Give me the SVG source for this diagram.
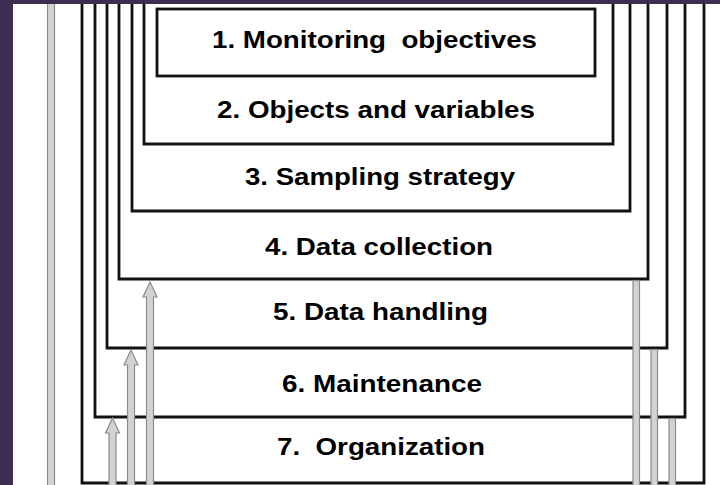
<svg xmlns="http://www.w3.org/2000/svg" width="720" height="485" viewBox="0 0 720 485">
<style>
.box{fill:none;stroke:#111;stroke-width:2.8;stroke-linejoin:miter}
.lbl{font-family:"Liberation Sans",Arial,Helvetica,sans-serif;font-weight:bold;font-size:24px;fill:#000}
.arr{fill:#d2d2d2;stroke:#8c8c8c;stroke-width:1.2}
</style>
<rect x="0" y="0" width="720" height="485" fill="#fff"/>
<g id="node7"><path class="box" d="M82,0 V483 H704 V0"/><text class="lbl" x="277" y="455" textLength="208" lengthAdjust="spacingAndGlyphs" xml:space="preserve">7.  Organization</text></g>
<g id="node6"><path class="box" d="M95,0 V417 H685 V0"/><text class="lbl" x="282" y="392" textLength="200" lengthAdjust="spacingAndGlyphs">6. Maintenance</text></g>
<g id="node5"><path class="box" d="M107,0 V348 H667 V0"/><text class="lbl" x="273" y="320" textLength="215" lengthAdjust="spacingAndGlyphs">5. Data handling</text></g>
<g id="node4"><path class="box" d="M119,0 V279 H648 V0"/><text class="lbl" x="265" y="255" textLength="228" lengthAdjust="spacingAndGlyphs">4. Data collection</text></g>
<g id="node3"><path class="box" d="M132,0 V211 H630 V0"/><text class="lbl" x="245" y="185" textLength="270" lengthAdjust="spacingAndGlyphs">3. Sampling strategy</text></g>
<g id="node2"><path class="box" d="M144,0 V144 H613 V0"/><text class="lbl" x="217" y="118" textLength="318" lengthAdjust="spacingAndGlyphs">2. Objects and variables</text></g>
<g id="node1"><rect class="box" x="157" y="9" width="438" height="67"/><text class="lbl" x="212" y="48" textLength="325" lengthAdjust="spacingAndGlyphs" xml:space="preserve">1. Monitoring  objectives</text></g>
<g id="connectors">
<rect class="arr" x="47.5" y="0" width="7" height="486"/>
<path class="arr" d="M150,282 L157,297 L153.5,297 L153.5,486 L146.5,486 L146.5,297 L143,297 Z"/>
<path class="arr" d="M131,350 L138,365 L134.5,365 L134.5,486 L127.5,486 L127.5,365 L124,365 Z"/>
<path class="arr" d="M112.5,418 L119.5,433 L116,433 L116,486 L109,486 L109,433 L105.5,433 Z"/>
<rect class="arr" x="633" y="280.5" width="6.5" height="206"/>
<rect class="arr" x="651" y="349.5" width="6.5" height="137"/>
<rect class="arr" x="669" y="418.5" width="6.5" height="68"/>
</g>
<rect x="0" y="0" width="720" height="4" fill="#3d2d53"/>
<rect x="0" y="0" width="13" height="485" fill="#3d2d53"/>
</svg>
